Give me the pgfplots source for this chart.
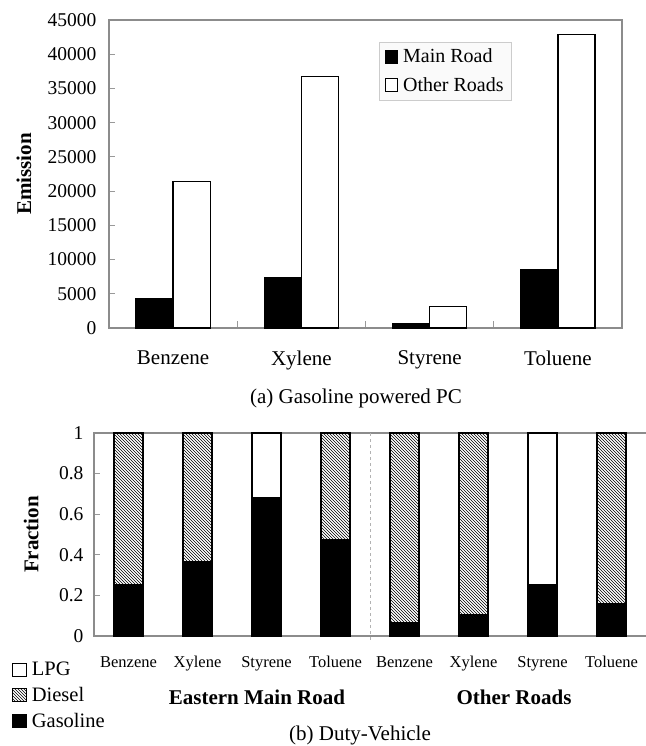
\documentclass[border=0pt]{standalone}
\usepackage{pgfplots}
\pgfplotsset{compat=1.18}
\usepackage{pgfplotstable}
\usepackage{fontspec}
\setmainfont{Liberation Serif}
\usetikzlibrary{patterns}

\pgfplotstableread{
x gas diesel lpg
0 0.254 0.746 0
1 0.368 0.632 0
2 0.681 0 0.319
3 0.476 0.524 0
4 0.067 0.933 0
5 0.107 0.893 0
6 0.254 0 0.746
7 0.159 0.841 0
}\dutytable

\begin{document}
\begin{tikzpicture}
\path[use as bounding box] (0pt,0pt) rectangle (645pt,-746pt);

\begin{axis}[
  at={(109pt,-328pt)}, anchor=south west,
  scale only axis, width=513pt, height=308pt,
  xmin=-0.5, xmax=3.5, ymin=0, ymax=45000,
  ybar=0pt, bar width=0.29,
  xtick={0,1,2,3}, xticklabels={Benzene,Xylene,Styrene,Toluene},
  minor xtick={0.5,1.5,2.5},
  ytick={0,5000,...,45000},
  scaled y ticks=false,
  /pgf/number format/1000 sep={},
  /pgf/number format/assume math mode=true,
  axis line style={draw=gray!90, line width=1.6pt},
  tick style={draw=gray!80, line width=0.8pt},
  major x tick style={draw=none},
  major tick length=6pt, minor tick length=7pt,
  tick align=inside, xtick pos=bottom, ytick pos=left,
  yticklabel style={font=\fontsize{19.5}{22}\selectfont, xshift=-9pt},
  xticklabel style={font=\fontsize{21}{24}\selectfont, yshift=-19pt},
  ylabel={Emission},
  ylabel style={font=\bfseries\fontsize{21}{24}\selectfont, at={(rel axis cs:-0.166,0.5)}, anchor=center},
  legend image code/.code={\draw[#1, line width=0.8pt] (0pt,-6.5pt) rectangle (12pt,6.5pt); \path (15pt,0pt);},
  legend style={at={(rel axis cs:0.526,0.929)}, anchor=north west, draw=gray!40, fill=gray!4,
    font=\fontsize{20}{23}\selectfont, row sep=9pt, inner xsep=6pt, inner ysep=5pt},
  legend cell align=left,
]
\addplot[fill=black, draw=black, line width=1.3pt] coordinates {(0,4300) (1,7300) (2,700) (3,8500)};
\addplot[fill=white, draw=black, line width=1.3pt] coordinates {(0,21400) (1,36700) (2,3100) (3,42900)};
\legend{Main Road, Other Roads}
\end{axis}

\node[font=\fontsize{21}{24}\selectfont] at (356pt,-398pt) {(a) Gasoline powered PC};

\begin{axis}[
  at={(94pt,-636pt)}, anchor=south west,
  scale only axis, width=555.5pt, height=203pt,
  xmin=-0.5, xmax=7.55, ymin=0, ymax=1,
  ybar stacked, bar width=0.42,
  xtick={0,...,7},
  xticklabels={Benzene,Xylene,Styrene,Toluene,Benzene,Xylene,Styrene,Toluene},
  ytick={0,0.2,0.4,0.6,0.8,1}, yticklabels={0,0.2,0.4,0.6,0.8,1},
  /pgf/number format/assume math mode=true,
  axis line style={draw=gray!90, line width=1.6pt},
  tick style={draw=gray!80, line width=0.8pt},
  major x tick style={draw=none},
  major tick length=6pt,
  tick align=inside, xtick pos=bottom, ytick pos=left,
  yticklabel style={font=\fontsize{19.5}{22}\selectfont, xshift=-7pt},
  xticklabel style={font=\fontsize{16.5}{19}\selectfont, yshift=-17pt},
  ylabel={Fraction},
  ylabel style={font=\bfseries\fontsize{21}{24}\selectfont, at={(rel axis cs:-0.113,0.5)}, anchor=center},
  clip=false,
  legend image code/.code={\draw[#1, line width=1pt] (0pt,-6.5pt) rectangle (14pt,6.5pt); \path (17pt,0pt);},
  legend style={at={(rel axis cs:-0.152,-0.118)}, anchor=north west, draw=none, fill=none,
    font=\fontsize{20.5}{23}\selectfont, row sep=6pt, inner xsep=2pt, inner ysep=0pt},
  legend cell align=left, reverse legend,
]
\addplot[fill=black, draw=black, line width=1.2pt] table[x=x,y=gas] {\dutytable};
\addplot[pattern=north west lines, draw=black, line width=1.2pt] table[x=x,y=diesel] {\dutytable};
\addplot[fill=white, draw=black, line width=1.2pt] table[x=x,y=lpg] {\dutytable};
\legend{Gasoline,Diesel,LPG}
\draw[dashed, gray!60, line width=0.6pt] (axis cs:3.5,1) -- (axis cs:3.5,-0.025);
\end{axis}

\node[font=\bfseries\fontsize{21}{24}\selectfont] at (257pt,-697pt) {Eastern Main Road};
\node[font=\bfseries\fontsize{21}{24}\selectfont] at (514pt,-697pt) {Other Roads};
\node[font=\fontsize{21}{24}\selectfont] at (360pt,-735pt) {(b) Duty-Vehicle};
\end{tikzpicture}
\end{document}
